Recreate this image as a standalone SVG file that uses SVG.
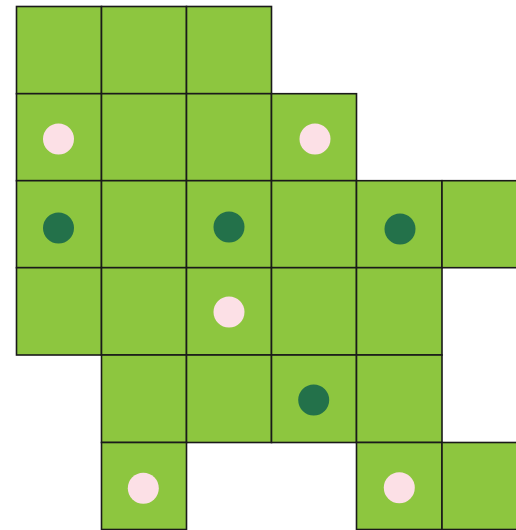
<svg xmlns="http://www.w3.org/2000/svg" width="516" height="530" viewBox="0 0 516 530">
<style>
.c{fill:#8dc63f;stroke:#1a1a1a;stroke-width:1.6}
.p{fill:#fce0e6}
.d{fill:#23714a}
</style>
<rect width="516" height="530" fill="#ffffff"/>
<g id="cells">
<g id="r0c0"><rect class="c" x="16.5" y="6.5" width="85" height="87.2"/></g>
<g id="r0c1"><rect class="c" x="101.5" y="6.5" width="85" height="87.2"/></g>
<g id="r0c2"><rect class="c" x="186.5" y="6.5" width="85" height="87.2"/></g>
<g id="r1c0"><rect class="c" x="16.5" y="93.7" width="85" height="87"/></g>
<g id="r1c1"><rect class="c" x="101.5" y="93.7" width="85" height="87"/></g>
<g id="r1c2"><rect class="c" x="186.5" y="93.7" width="85" height="87"/></g>
<g id="r1c3"><rect class="c" x="271.5" y="93.7" width="85" height="87"/></g>
<g id="r2c0"><rect class="c" x="16.5" y="180.7" width="85" height="87"/></g>
<g id="r2c1"><rect class="c" x="101.5" y="180.7" width="85" height="87"/></g>
<g id="r2c2"><rect class="c" x="186.5" y="180.7" width="85" height="87"/></g>
<g id="r2c3"><rect class="c" x="271.5" y="180.7" width="85" height="87"/></g>
<g id="r2c4"><rect class="c" x="356.5" y="180.7" width="85.5" height="87"/></g>
<g id="r2c5"><rect class="c" x="442" y="180.7" width="85" height="87"/></g>
<g id="r3c0"><rect class="c" x="16.5" y="267.7" width="85" height="87.3"/></g>
<g id="r3c1"><rect class="c" x="101.5" y="267.7" width="85" height="87.3"/></g>
<g id="r3c2"><rect class="c" x="186.5" y="267.7" width="85" height="87.3"/></g>
<g id="r3c3"><rect class="c" x="271.5" y="267.7" width="85" height="87.3"/></g>
<g id="r3c4"><rect class="c" x="356.5" y="267.7" width="85.5" height="87.3"/></g>
<g id="r4c1"><rect class="c" x="101.5" y="355" width="85" height="87.5"/></g>
<g id="r4c2"><rect class="c" x="186.5" y="355" width="85" height="87.5"/></g>
<g id="r4c3"><rect class="c" x="271.5" y="355" width="85" height="87.5"/></g>
<g id="r4c4"><rect class="c" x="356.5" y="355" width="85.5" height="87.5"/></g>
<g id="r5c1"><rect class="c" x="101.5" y="442.5" width="85" height="87"/></g>
<g id="r5c4"><rect class="c" x="356.5" y="442.5" width="85.5" height="87"/></g>
<g id="r5c5"><rect class="c" x="442" y="442.5" width="85" height="87"/></g>
</g>
<g id="dots">
<circle class="p" cx="58.5" cy="139" r="15.5"/>
<circle class="p" cx="315" cy="139" r="15.5"/>
<circle class="d" cx="58.5" cy="228" r="15.5"/>
<circle class="d" cx="229" cy="227" r="15.5"/>
<circle class="d" cx="400" cy="229" r="15.5"/>
<circle class="p" cx="229" cy="312" r="15.5"/>
<circle class="d" cx="313.7" cy="400" r="15.5"/>
<circle class="p" cx="143.3" cy="488.3" r="15.5"/>
<circle class="p" cx="399.3" cy="487.7" r="15.5"/>
</g>
</svg>
